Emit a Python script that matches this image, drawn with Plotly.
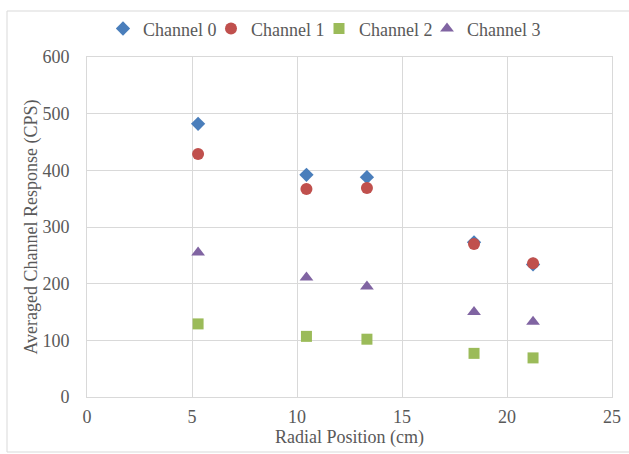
import plotly.graph_objects as go

radial_cm = [5.29, 10.45, 13.33, 18.43, 21.24]
channel_0 = [482, 392, 388, 273, 234]
channel_1 = [429, 367, 369, 270, 236]
channel_2 = [129, 107, 102, 77, 69]
channel_3 = [255, 211, 195, 150, 133]

series = [
    ("Channel 0", channel_0, "#4a7ebb", "diamond", 11),
    ("Channel 1", channel_1, "#c0504d", "circle", 12),
    ("Channel 2", channel_2, "#9bbb59", "square", 11),
    ("Channel 3", channel_3, "#8064a2", "triangle-up", 12),
]

serif = "Liberation Serif, Times New Roman, serif"
txt = dict(family=serif, size=18, color="#595959")

fig = go.Figure()
legend_ids = ["legend", "legend2", "legend3", "legend4"]
legend_px = [103, 211, 319, 427]  # left edge of each legend entry
for (name, vals, color, sym, size), lid in zip(series, legend_ids):
    fig.add_trace(go.Scatter(
        x=radial_cm, y=vals, mode="markers", name=name, legend=lid, showlegend=True,
        marker=dict(color=color, symbol=sym, size=size, line=dict(width=0)),
    ))

layout_legends = {}
for lid, px in zip(legend_ids, legend_px):
    layout_legends[lid] = dict(orientation="h", x=(px - 87) / 525, xanchor="left",
                               y=1.083, yanchor="middle", bgcolor="rgba(0,0,0,0)",
                               font=txt, itemwidth=30)

fig.update_layout(
    width=629, height=454,
    showlegend=True,
    margin=dict(l=87, r=17, t=57, b=57, autoexpand=False),
    paper_bgcolor="white", plot_bgcolor="white",
    font=txt,
    xaxis=dict(range=[0, 25], dtick=5, showgrid=True, gridcolor="#d9d9d9", gridwidth=1,
               showline=True, linecolor="#d9d9d9", mirror=True, zeroline=False,
               ticks="", ticklabelstandoff=3, automargin=False, tickfont=txt,
               title=dict(text="Radial Position (cm)", standoff=0, font=txt)),
    yaxis=dict(range=[0, 600], dtick=100, showgrid=True, gridcolor="#d9d9d9", gridwidth=1,
               showline=True, linecolor="#d9d9d9", mirror=True, zeroline=False,
               ticks="", ticklabelstandoff=13, automargin=False, tickfont=txt,
               title=dict(text="Averaged Channel Response (CPS)", standoff=0, font=txt)),
    **layout_legends,
)
# outer chart border
pw, ph = 629 - 87 - 17, 454 - 57 - 57
fig.add_shape(type="rect", xref="paper", yref="paper",
              x0=(7 - 87) / pw, x1=(640 - 87) / pw,
              y0=(397 - 452) / ph, y1=(397 - 11) / ph,
              line=dict(color="#d9d9d9", width=1), layer="below")
fig.write_html("out.html", config={"displayModeBar": False},
               post_script="document.body.style.margin='0';")
